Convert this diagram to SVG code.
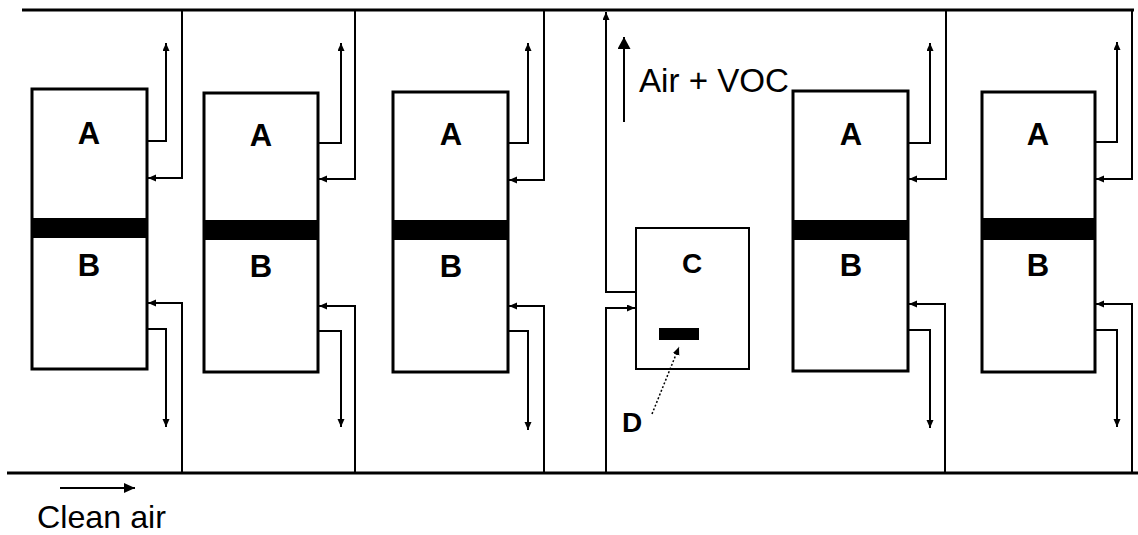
<svg xmlns="http://www.w3.org/2000/svg" width="1138" height="535" viewBox="0 0 1138 535">
<style>
.box{fill:#fff;stroke:#000;stroke-width:3}
.band{fill:#000}
.rail{stroke:#000;stroke-width:3;fill:none}
.pipe{stroke:#000;stroke-width:2;fill:none;marker-end:url(#ah)}
.lbl{font-family:"Liberation Sans",Arial,sans-serif;font-weight:bold;font-size:31px;text-anchor:middle;fill:#000}
.txt{font-family:"Liberation Sans",Arial,sans-serif;fill:#000}
</style>
<defs>
<marker id="ah" markerUnits="userSpaceOnUse" markerWidth="9" markerHeight="9" refX="8" refY="3.5" orient="auto"><path d="M0,0 L8,3.5 L0,7 z" fill="#000"/></marker>
<marker id="ahL" markerUnits="userSpaceOnUse" markerWidth="12" markerHeight="12" refX="11" refY="5" orient="auto"><path d="M0,0 L11,5 L0,10 z" fill="#000"/></marker>
<marker id="ahXL" markerUnits="userSpaceOnUse" markerWidth="14" markerHeight="14" refX="12" refY="6.5" orient="auto"><path d="M0,0 L12,6.5 L0,13 z" fill="#000"/></marker>
</defs>
<rect width="1138" height="535" fill="#fff"/>

<g id="rails">
<line class="rail" x1="22" y1="10" x2="1134" y2="10"/>
<line class="rail" x1="7" y1="473" x2="1138" y2="473"/>
</g>

<g id="unit1">
<rect class="box" x="32" y="89" width="115" height="280"/>
<rect class="band" x="32" y="218" width="115" height="20"/>
<text class="lbl" x="89" y="144">A</text>
<text class="lbl" x="89" y="276">B</text>
</g>
<g id="unit2">
<rect class="box" x="204" y="93" width="114" height="279"/>
<rect class="band" x="204" y="220" width="114" height="20"/>
<text class="lbl" x="261" y="146">A</text>
<text class="lbl" x="261" y="277">B</text>
</g>
<g id="unit3">
<rect class="box" x="393" y="92" width="115" height="280"/>
<rect class="band" x="393" y="220" width="115" height="20"/>
<text class="lbl" x="451" y="145">A</text>
<text class="lbl" x="451" y="277">B</text>
</g>
<g id="unit4">
<rect class="box" x="793" y="91" width="115" height="280"/>
<rect class="band" x="793" y="220" width="115" height="20"/>
<text class="lbl" x="851" y="145">A</text>
<text class="lbl" x="851" y="276">B</text>
</g>
<g id="unit5">
<rect class="box" x="982" y="92" width="113" height="280"/>
<rect class="band" x="982" y="218" width="113" height="22"/>
<text class="lbl" x="1038" y="145">A</text>
<text class="lbl" x="1038" y="276">B</text>
</g>
<g id="unitC">
<rect class="box" x="636" y="228" width="113" height="141" style="stroke-width:2"/>
<text class="lbl" x="692" y="273" style="font-size:28px">C</text>
<rect x="659" y="328" width="40" height="12" fill="#000"/>
</g>
<g id="labelD">
<text class="lbl" x="632" y="432" style="font-size:28px">D</text>
</g>

<g id="connectors">
<path class="pipe" d="M147,141 H166 V43"/>
<path class="pipe" d="M182,10 V178 H148"/>
<path class="pipe" d="M182,473 V303 H148"/>
<path class="pipe" d="M147,329 H166 V427"/>
<path class="pipe" d="M318,143 H341 V43"/>
<path class="pipe" d="M355,10 V179 H319"/>
<path class="pipe" d="M355,473 V306 H319"/>
<path class="pipe" d="M318,331 H341 V427"/>
<path class="pipe" d="M508,143 H528 V43"/>
<path class="pipe" d="M544,10 V180 H509"/>
<path class="pipe" d="M544,473 V306 H509"/>
<path class="pipe" d="M508,331 H528 V430"/>
<path class="pipe" d="M908,143 H930 V43"/>
<path class="pipe" d="M946,10 V179 H909"/>
<path class="pipe" d="M945,473 V304 H909"/>
<path class="pipe" d="M908,330 H930 V428"/>
<path class="pipe" d="M1095,142 H1117 V42"/>
<path class="pipe" d="M1132,10 V179 H1096"/>
<path class="pipe" d="M1132,473 V304 H1096"/>
<path class="pipe" d="M1095,330 H1117 V427"/>
<path class="pipe" d="M635,292 H606 V12"/>
<path class="pipe" d="M606,473 V308 H635"/>
<path d="M624,122 V37" stroke="#000" stroke-width="2" fill="none" marker-end="url(#ahXL)"/>
<path d="M60,488 H135" stroke="#000" stroke-width="2" fill="none" marker-end="url(#ahL)"/>
<path d="M652,414 L679,347" stroke="#000" stroke-width="1.5" stroke-dasharray="2,2" fill="none" marker-end="url(#ah)"/>
</g>

<g id="labels">
<text class="txt" x="639" y="92" font-size="33" textLength="150" lengthAdjust="spacingAndGlyphs">Air + VOC</text>
<text class="txt" x="37" y="528" font-size="32" textLength="129" lengthAdjust="spacingAndGlyphs">Clean air</text>
</g>
</svg>
